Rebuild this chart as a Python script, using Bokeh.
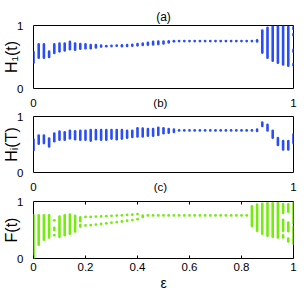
from bokeh.plotting import figure
from bokeh.layouts import column
from bokeh.models import FixedTicker, Range1d, ColumnDataSource, LinearAxis
from bokeh.embed import file_html
from bokeh.resources import INLINE

FONT = "Liberation Sans"
BLUE = "#2a4dfb"
GREEN = "#74ec0c"

eps = [0.00, 0.02, 0.04, 0.06, 0.08, 0.10, 0.12, 0.14, 0.16, 0.18,
       0.20, 0.22, 0.24, 0.26, 0.28, 0.30, 0.32, 0.34, 0.36, 0.38,
       0.40, 0.42, 0.44, 0.46, 0.48, 0.50, 0.52, 0.54, 0.56, 0.58,
       0.60, 0.62, 0.64, 0.66, 0.68, 0.70, 0.72, 0.74, 0.76, 0.78,
       0.80, 0.82, 0.84, 0.86, 0.88, 0.90, 0.92, 0.94, 0.96, 0.98, 1.00]

# (low, high) extents of the attractor points at each epsilon
H1_ranges = [
    [(0.41, 0.58)], [(0.49, 0.70)], [(0.49, 0.70)], [(0.50, 0.585)], [(0.565, 0.70)],
    [(0.59, 0.715)], [(0.605, 0.715)], [(0.625, 0.74)], [(0.615, 0.715)], [(0.63, 0.705)],
    [(0.64, 0.70)], [(0.64, 0.69)], [(0.65, 0.69)], [(0.665, 0.68)], [(0.672, 0.672)],
    [(0.675, 0.675)], [(0.68, 0.68)], [(0.67, 0.685)], [(0.675, 0.69)], [(0.68, 0.695)],
    [(0.685, 0.705)], [(0.69, 0.715)], [(0.695, 0.725)], [(0.70, 0.74)], [(0.705, 0.745)],
    [(0.715, 0.745)], [(0.73, 0.75)], [(0.75, 0.75)], [(0.753, 0.753)], [(0.753, 0.753)],
    [(0.753, 0.753)], [(0.753, 0.753)], [(0.753, 0.753)], [(0.753, 0.753)], [(0.753, 0.753)],
    [(0.753, 0.753)], [(0.753, 0.753)], [(0.753, 0.753)], [(0.753, 0.753)], [(0.753, 0.753)],
    [(0.753, 0.753)], [(0.753, 0.753)], [(0.753, 0.753)], [(0.745, 0.765)], [(0.57, 0.92)],
    [(0.49, 0.965)], [(0.44, 0.98)], [(0.41, 0.985)], [(0.38, 0.985)], [(0.36, 0.975)],
    [(0.37, 0.39), (0.585, 0.615), (0.845, 0.865), (0.945, 0.97)],
]

Hi_ranges = [
    [(0.40, 0.59)], [(0.515, 0.66)], [(0.525, 0.66)], [(0.465, 0.605)], [(0.56, 0.695)],
    [(0.585, 0.73)], [(0.585, 0.72)], [(0.61, 0.745)], [(0.595, 0.735)], [(0.585, 0.745)],
    [(0.585, 0.745)], [(0.57, 0.76)], [(0.595, 0.76)], [(0.585, 0.76)], [(0.585, 0.76)],
    [(0.605, 0.76)], [(0.595, 0.76)], [(0.605, 0.76)], [(0.62, 0.745)], [(0.635, 0.745)],
    [(0.645, 0.79)], [(0.645, 0.785)], [(0.655, 0.775)], [(0.655, 0.775)], [(0.67, 0.80)],
    [(0.70, 0.79)], [(0.71, 0.775)], [(0.725, 0.765)], [(0.752, 0.752)], [(0.752, 0.752)],
    [(0.752, 0.752)], [(0.752, 0.752)], [(0.752, 0.752)], [(0.752, 0.752)], [(0.752, 0.752)],
    [(0.752, 0.752)], [(0.752, 0.752)], [(0.752, 0.752)], [(0.752, 0.752)], [(0.752, 0.752)],
    [(0.752, 0.752)], [(0.752, 0.752)], [(0.752, 0.752)], [(0.74, 0.765)], [(0.83, 0.89)],
    [(0.75, 0.85)], [(0.62, 0.745)], [(0.49, 0.615)], [(0.41, 0.56)], [(0.41, 0.56)],
    [(0.525, 0.68)],
]

F_ranges = [
    [(0.005, 0.76)], [(0.24, 0.76)], [(0.33, 0.76)], [(0.37, 0.76)],
    [(0.41, 0.41), (0.50, 0.50), (0.535, 0.535), (0.67, 0.67)],
    [(0.38, 0.735)], [(0.41, 0.76)], [(0.435, 0.77)], [(0.475, 0.75)],
    [(0.56, 0.59), (0.655, 0.725)],
    [(0.58, 0.58), (0.73, 0.73)], [(0.585, 0.585), (0.73, 0.73)], [(0.595, 0.595), (0.735, 0.735)],
    [(0.607, 0.607), (0.738, 0.738)], [(0.617, 0.617), (0.743, 0.743)], [(0.628, 0.628), (0.748, 0.748)],
    [(0.638, 0.638), (0.753, 0.753)], [(0.649, 0.649), (0.758, 0.758)], [(0.664, 0.664), (0.764, 0.764)],
    [(0.675, 0.675), (0.769, 0.769)], [(0.69, 0.69), (0.78, 0.78)], [(0.73, 0.755)],
    [(0.755, 0.755)], [(0.755, 0.755)], [(0.755, 0.755)], [(0.755, 0.755)], [(0.755, 0.755)],
    [(0.755, 0.755)], [(0.755, 0.755)], [(0.755, 0.755)], [(0.755, 0.755)], [(0.755, 0.755)],
    [(0.755, 0.755)], [(0.755, 0.755)], [(0.755, 0.755)], [(0.755, 0.755)], [(0.755, 0.755)],
    [(0.755, 0.755)], [(0.755, 0.755)], [(0.755, 0.755)], [(0.755, 0.755)], [(0.755, 0.755)],
    [(0.57, 0.915)], [(0.485, 0.945)], [(0.435, 0.96)], [(0.40, 0.97)], [(0.38, 0.97)],
    [(0.37, 0.97)],
    [(0.37, 0.405), (0.485, 0.68), (0.80, 0.955)],
    [(0.30, 0.35), (0.48, 0.63), (0.82, 0.95)],
    [(0.26, 0.56), (0.62, 0.97)],
]

x_ticks = [0, 0.2, 0.4, 0.6, 0.8, 1]
x_tick_labels = ["0", "0.2", "0.4", "0.6", "0.8", "1"]
y_ticks = [0, 1]
titles = ["(a)", "(b)", "(c)"]
title_pos = 0.488

W = 300
LEFT = 32
FRAME_W = 261


def split(ranges):
    sx, lo, hi, px, py = [], [], [], [], []
    for e, ivs in zip(eps, ranges):
        for a, b in ivs:
            if b - a < 0.004:
                px.append(e); py.append((a + b) / 2)
            else:
                sx.append(e); lo.append(a); hi.append(b)
    return (ColumnDataSource(dict(x=sx, lo=lo, hi=hi)),
            ColumnDataSource(dict(x=px, y=py)))


def style_axis(ax, standoff=4):
    ax.major_label_text_font = FONT
    ax.major_label_text_font_size = "11.5px"
    ax.major_label_text_color = "black"
    ax.axis_label_text_font = FONT
    ax.axis_label_text_font_style = "normal"
    ax.axis_label_text_color = "black"
    ax.axis_line_color = None
    ax.major_label_standoff = standoff


def panel(ranges, color, ylabel, height, top, bottom, xloc):
    p = figure(width=W, height=height, x_range=Range1d(0, 1), y_range=Range1d(0, 1),
               output_backend="svg", toolbar_location=None,
               x_axis_location=xloc, y_axis_location="left",
               min_border_left=LEFT, min_border_right=W - LEFT - FRAME_W,
               min_border_top=top, min_border_bottom=bottom)
    p.grid.visible = False
    p.outline_line_color = "black"
    p.outline_line_alpha = 1
    p.outline_line_width = 1
    p.background_fill_color = "white"
    p.border_fill_color = "white"
    seg, pts = split(ranges)
    p.segment(x0="x", y0="lo", x1="x", y1="hi", source=seg, line_color=color,
              line_width=2.6, line_cap="round")
    p.scatter(x="x", y="y", source=pts, size=2.8, fill_color=color, line_color=None)
    ya = p.yaxis[0]
    ya.ticker = FixedTicker(ticks=y_ticks)
    style_axis(ya)
    ya.major_tick_line_color = None
    ya.minor_tick_line_color = None
    ya.axis_label = ylabel
    ya.axis_label_text_font_size = "16px"
    ya.axis_label_standoff = -6
    return p


def title_axis(title, standoff, minor=None):
    ax = LinearAxis(ticker=FixedTicker(ticks=[0, title_pos, 1], minor_ticks=minor or []))
    ax.major_label_overrides = {0: "0", title_pos: title, 1: "1"}
    style_axis(ax, standoff)
    ax.major_tick_line_color = None
    if minor:
        ax.minor_tick_in = 3
        ax.minor_tick_out = 0
        ax.minor_tick_line_color = "black"
    else:
        ax.minor_tick_line_color = None
    return ax


# panel (a)
pa = panel(H1_ranges, BLUE, "H\u2081(t)", 93, 25, 5, None)
pa.title.text = titles[0]
pa.title.align = "center"
pa.title.text_font = FONT
pa.title.text_font_size = "12px"
pa.title.text_font_style = "normal"
pa.title.text_color = "black"
pa.title.standoff = 4
pa.title.offset = -4

# panel (b): its title shares the row of the tick labels above it
pb = panel(Hi_ranges, BLUE, "H\u1d62(T)", 84, 16, 5, None)
pb.add_layout(title_axis(titles[1], 2), "above")

# panel (c)
pc = panel(F_ranges, GREEN, "F(t)", 116, 17, 35, "below")
bx = pc.xaxis[0]
bx.ticker = FixedTicker(ticks=x_ticks)
bx.major_label_overrides = {t: s for t, s in zip(x_ticks, x_tick_labels)}
style_axis(bx)
bx.major_tick_in = 3
bx.major_tick_out = 0
bx.major_tick_line_color = "black"
bx.minor_tick_line_color = None
bx.axis_label = "\u03b5"
bx.axis_label_text_font_size = "14px"
bx.axis_label_standoff = 1
pc.add_layout(title_axis(titles[2], 3, minor=[0.2, 0.4, 0.6, 0.8]), "above")

layout = column(pa, pb, pc, spacing=0)
open("out.html", "w").write(file_html(layout, INLINE))
